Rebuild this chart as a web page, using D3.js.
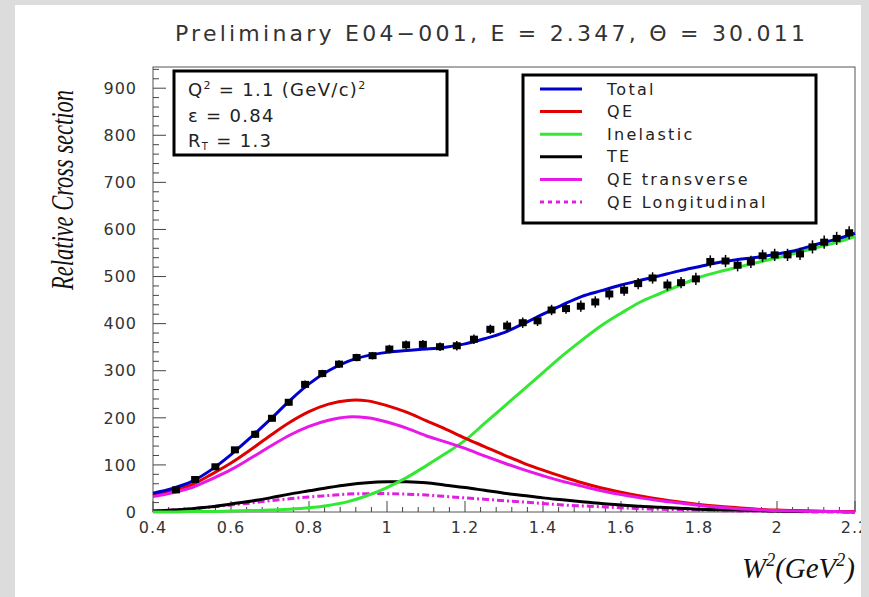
<!DOCTYPE html>
<html>
<head>
<meta charset="utf-8">
<script src="https://cdn.jsdelivr.net/npm/d3@7"></script>
<style>
  body { margin: 0; background: #dcdcdc; }
  text { font-family: "DejaVu Sans", sans-serif; fill: #222; }
  .serif { font-family: "Liberation Serif", "DejaVu Serif", serif; font-style: italic; }
</style>
</head>
<body>
<div class="chart"></div>
<script>
var wGrid = [0.40,0.45,0.50,0.55,0.60,0.65,0.70,0.75,0.80,0.85,0.90,0.95,1.00,1.05,1.10,1.15,1.20,1.25,1.30,
  1.35,1.40,1.45,1.50,1.55,1.60,1.65,1.70,1.75,1.80,1.85,1.90,1.95,2.00,2.05,2.10,2.15,2.20];

var totalFit = [40,50,65,90,122,158,196,236,272,300,320,332,339,343,346,350,357,368,381,400,420,440,458,
  470,482,492,502,512,521,530,536,541,548,556,568,579,592];
var qeFit = [35,45,58,80,104,132,162,190,213,229,237,236,226,212,194,176,157,139,121,104,89,75,62,
  51,42,34,27,21,16,12,9,6,4,3,2,1,1];
var inelasticFit = [0,0,1,1,2,3,4,6,9,14,22,35,52,73,98,124,152,188,224,260,296,332,365,
  396,422,446,464,481,498,510,520,530,540,550,561,572,585];
var teFit = [2,4,7,11,17,23,30,38,45,52,58,62,64,64,62,57,52,46,40,35,30,26,22,
  18,15,12,10,8,6,5,4,3,2,1,1,1,0];
var qeTransverse = [33,41,52,70,90,114,139,163,182,195,202,200,191,178,162,149,135,119,104,90,77,65,55,
  45,37,30,24,19,14,10,7,5,3,2,1,1,0];
var qeLongitudinal = [2,4,7,11,15,19,24,28,32,35,38,39,39,38,36,33,30,27,24,21,18,15,13,
  11,9,7,6,5,4,3,2,2,1,1,0,0,0];

// measured points
var dataW = [0.459,0.508,0.560,0.610,0.662,0.705,0.748,0.790,0.834,0.877,0.922,0.963,1.006,
  1.049,1.092,1.136,1.179,1.223,1.265,1.308,1.348,1.386,1.422,1.459,1.497,1.534,1.570,
  1.608,1.644,1.681,1.719,1.754,1.792,1.829,1.868,1.899,1.933,1.963,1.994,2.027,2.059,2.091,2.121,2.153,2.185];
var dataXs = [47,69,96,132,165,199,233,271,294,314,328,332,346,
  355,356,351,353,367,388,395,402,406,429,432,437,446,463,
  471,485,497,482,487,495,532,533,524,531,544,546,546,548,563,573,581,593];
var dataErr = [5,5,6,6,8,7,7,8,8,8,8,8,9,
  9,9,9,10,10,10,11,11,11,11,11,12,12,12,
  12,12,12,12,12,13,13,13,13,13,13,13,13,13,14,14,14,14];

var xTicks = [0.4,0.6,0.8,1,1.2,1.4,1.6,1.8,2,2.2];
var yTicks = [0,100,200,300,400,500,600,700,800,900];

var legendNames = ["Total","QE","Inelastic","TE","QE transverse","QE Longitudinal"];

var svgWidth = 869, svgHeight = 597;
var margin = { top: 67, right: 14, bottom: 85, left: 153 };
var width = svgWidth - margin.left - margin.right;
var height = svgHeight - margin.top - margin.bottom;

var svg = d3.select(".chart").append("svg")
  .attr("width", svgWidth)
  .attr("height", svgHeight)
  .style("display", "block");

// white pad on gray canvas
svg.append("rect").attr("x", 15).attr("y", 5).attr("width", 846).attr("height", 592).attr("fill", "white");

var g = svg.append("g").attr("transform", `translate(${margin.left}, ${margin.top})`);

var x = d3.scaleLinear().domain([0.4, 2.2]).range([0, width]);
var y = d3.scaleLinear().domain([0, 945]).range([height, 0]);

// title
svg.append("text")
  .attr("x", 490).attr("y", 41)
  .attr("text-anchor", "middle")
  .attr("textLength", 630)
  .style("font-size", "22px")
  .style("fill", "#333")
  .text("Preliminary E04\u2212001, E = 2.347, \u0398 = 30.011");

// frame
g.append("rect").attr("width", width).attr("height", height)
  .attr("fill", "none").attr("stroke", "#555").attr("stroke-width", 1);

// y ticks (inward)
var yMinor = d3.range(0, 945, 20);
g.selectAll(".ymin").data(yMinor).enter().append("line")
  .attr("x1", 0).attr("x2", d => d % 100 === 0 ? 13 : 6)
  .attr("y1", d => y(d)).attr("y2", d => y(d))
  .attr("stroke", "#444");
g.selectAll(".ylab").data(yTicks).enter().append("text")
  .attr("x", -16).attr("y", d => y(d)).attr("dy", "0.36em")
  .attr("text-anchor", "end")
  .style("font-size", "16px").style("letter-spacing", "1px").style("fill", "#333")
  .text(d => d);

// x ticks (inward)
var xMinor = d3.range(0, 46).map(i => 0.4 + i * 0.04);
g.selectAll(".xmin").data(xMinor).enter().append("line")
  .attr("x1", d => x(d)).attr("x2", d => x(d))
  .attr("y1", height).attr("y2", (d, i) => height - (i % 5 === 0 ? 11 : 5))
  .attr("stroke", "#444");
g.selectAll(".xlab").data(xTicks).enter().append("text")
  .attr("x", d => x(d)).attr("y", height + 21)
  .attr("text-anchor", "middle")
  .style("font-size", "16px").style("letter-spacing", "1px").style("fill", "#333")
  .text(d => d);

// axis titles
svg.append("text").attr("class", "serif")
  .attr("transform", "translate(73, 190) rotate(-90)")
  .attr("text-anchor", "middle")
  .attr("textLength", 200).attr("lengthAdjust", "spacingAndGlyphs")
  .style("font-size", "31px").style("fill", "#111")
  .text("Relative Cross section");

var xt = svg.append("text").attr("class", "serif")
  .attr("x", 855).attr("y", 578)
  .attr("text-anchor", "end")
  .style("font-size", "29px").style("fill", "#111");
xt.append("tspan").text("W");
xt.append("tspan").attr("dy", -12).style("font-size", "18px").text("2");
xt.append("tspan").attr("dy", 12).text("(GeV");
xt.append("tspan").attr("dy", -12).style("font-size", "18px").text("2");
xt.append("tspan").attr("dy", 12).text(")");

// curves
var series = [
  { name: legendNames[5], values: qeLongitudinal, color: "#e020e0", dash: "7,3,2,3" },
  { name: legendNames[3], values: teFit, color: "#000", dash: null },
  { name: legendNames[2], values: inelasticFit, color: "#33e833", dash: null },
  { name: legendNames[1], values: qeFit, color: "#e00000", dash: null },
  { name: legendNames[4], values: qeTransverse, color: "#e818e8", dash: null },
  { name: legendNames[0], values: totalFit, color: "#0000cc", dash: null }
];

var line = d3.line()
  .x(d => x(d[0])).y(d => y(Math.max(0, d[1])))
  .curve(d3.curveCatmullRom.alpha(0.5));

var plot = g.append("g");
series.forEach(function(s) {
  plot.append("path")
    .datum(wGrid.map((w, i) => [w, s.values[i]]))
    .attr("d", line)
    .attr("fill", "none")
    .attr("stroke", s.color)
    .attr("stroke-width", 3)
    .attr("stroke-dasharray", s.dash);
});

// data points with error bars
var pts = dataW.map((w, i) => ({ w: w, v: dataXs[i], e: dataErr[i] }));
plot.selectAll(".err").data(pts).enter().append("line")
  .attr("x1", d => x(d.w)).attr("x2", d => x(d.w))
  .attr("y1", d => y(d.v - d.e)).attr("y2", d => y(d.v + d.e))
  .attr("stroke", "#000").attr("stroke-width", 1.5);
plot.selectAll(".pt").data(pts).enter().append("rect")
  .attr("x", d => x(d.w) - 4).attr("y", d => y(d.v) - 3.5)
  .attr("width", 8).attr("height", 7)
  .attr("fill", "#000");

// info box
svg.append("rect").attr("x", 174).attr("y", 71).attr("width", 273).attr("height", 84)
  .attr("fill", "white").attr("stroke", "#000").attr("stroke-width", 3);
var info = svg.append("g").style("font-size", "18px").style("letter-spacing", "1.3px");
var q = info.append("text").attr("x", 188).attr("y", 96);
q.append("tspan").text("Q");
q.append("tspan").attr("dy", -7).style("font-size", "11px").text("2");
q.append("tspan").attr("dy", 7).text(" = 1.1 (GeV/c)");
q.append("tspan").attr("dy", -7).style("font-size", "11px").text("2");
info.append("text").attr("x", 188).attr("y", 122).text("\u03B5 = 0.84");
var r = info.append("text").attr("x", 188).attr("y", 147);
r.append("tspan").text("R");
r.append("tspan").attr("dy", 3).style("font-size", "10px").text("T");
r.append("tspan").attr("dy", -3).text(" = 1.3");

// legend
var legendOrder = [5, 3, 2, 1, 4, 0];
svg.append("rect").attr("x", 523).attr("y", 75).attr("width", 293).attr("height", 148)
  .attr("fill", "white").attr("stroke", "#000").attr("stroke-width", 3);
legendOrder.forEach(function(si, i) {
  var s = series[si];
  var ly = 89 + i * 22.6;
  svg.append("line")
    .attr("x1", 540).attr("x2", 582).attr("y1", ly).attr("y2", ly)
    .attr("stroke", s.color).attr("stroke-width", 3)
    .attr("stroke-dasharray", s.dash ? "4,4" : null);
  svg.append("text")
    .attr("x", 607).attr("y", ly).attr("dy", "0.35em")
    .style("font-size", "16px").style("letter-spacing", "2.3px")
    .text(s.name);
});

// gray strip on right clips the last label
svg.append("rect").attr("x", 861).attr("y", 0).attr("width", 8).attr("height", svgHeight).attr("fill", "#dcdcdc");
</script>
</body>
</html>
